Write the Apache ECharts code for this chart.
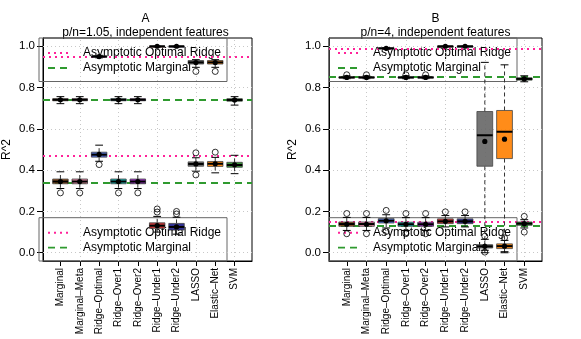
<!DOCTYPE html>
<html>
<head>
<meta charset="utf-8">
<script src="https://cdn.jsdelivr.net/npm/echarts@6/dist/echarts.min.js"></script>
<style>
  html, body { margin: 0; padding: 0; background: #fff; }
  #chart { width: 581px; height: 339px; }
</style>
</head>
<body>
<div id="chart"></div>
<script>
// categories and tick labels
var categories = ['Marginal', 'Marginal–Meta', 'Ridge–Optimal', 'Ridge–Over1', 'Ridge–Over2',
                  'Ridge–Under1', 'Ridge–Under2', 'LASSO', 'Elastic–Net', 'SVM'];
var yTicks = [0, 0.2, 0.4, 0.6, 0.8, 1.0];
var xGrid = [2, 4, 6, 8, 10];

// box stats: [lower whisker, Q1, median, Q3, upper whisker]
// panel A, upper (training) boxes
var aTrain = [
  [0.722, 0.736, 0.741, 0.746, 0.756], [0.722, 0.736, 0.741, 0.746, 0.756],
  [0.944, 0.947, 0.950, 0.953, 0.956], [0.722, 0.736, 0.741, 0.746, 0.756],
  [0.722, 0.736, 0.741, 0.746, 0.756], [0.996, 0.998, 1.000, 1.000, 1.000],
  [0.996, 0.998, 1.000, 1.000, 1.000], [0.898, 0.914, 0.922, 0.931, 0.935],
  [0.898, 0.914, 0.922, 0.931, 0.935], [0.715, 0.734, 0.740, 0.746, 0.756]
];
var aTrainMean = [0.741, 0.741, 0.950, 0.741, 0.741, 1.0, 1.0, 0.921, 0.921, 0.740];
var aTrainOut = [[], [], [], [], [], [], [], [0.878], [0.878], []];
// panel A, lower (test) boxes
var aTest = [
  [0.311, 0.334, 0.345, 0.357, 0.392], [0.311, 0.334, 0.345, 0.357, 0.392],
  [0.443, 0.463, 0.475, 0.487, 0.521], [0.311, 0.334, 0.345, 0.357, 0.392],
  [0.311, 0.334, 0.345, 0.357, 0.392], [0.100, 0.118, 0.131, 0.145, 0.176],
  [0.090, 0.110, 0.125, 0.142, 0.172], [0.395, 0.419, 0.430, 0.440, 0.460],
  [0.387, 0.418, 0.431, 0.442, 0.462], [0.383, 0.414, 0.425, 0.438, 0.472]
];
var aTestMean = [0.345, 0.345, 0.476, 0.345, 0.345, 0.131, 0.125, 0.430, 0.431, 0.426];
var aTestOut = [[0.29], [0.29], [0.427], [0.29], [0.29], [0.197, 0.212], [0.188, 0.2], [0.484, 0.377], [0.487], []];

// panel B, upper (training) boxes
var bTrain = [
  [0.843, 0.846, 0.849, 0.852, 0.856], [0.843, 0.846, 0.849, 0.852, 0.856],
  [0.986, 0.988, 0.990, 0.992, 0.994], [0.843, 0.846, 0.849, 0.852, 0.856],
  [0.843, 0.846, 0.849, 0.852, 0.856], [0.997, 0.999, 1.000, 1.000, 1.000],
  [0.997, 0.999, 1.000, 1.000, 1.000], [0.000, 0.419, 0.569, 0.684, 0.922],
  [0.000, 0.456, 0.586, 0.689, 0.910], [0.828, 0.836, 0.842, 0.847, 0.857]
];
var bTrainMean = [0.849, 0.849, 0.990, 0.849, 0.849, 1.0, 1.0, 0.539, 0.550, 0.842];
var bTrainOut = [[0.862], [0.862], [], [0.862], [0.862], [], [], [], [], []];
// panel B, lower (test) boxes
var bTest = [
  [0.108, 0.128, 0.139, 0.149, 0.171], [0.108, 0.128, 0.139, 0.149, 0.171],
  [0.120, 0.144, 0.155, 0.165, 0.184], [0.108, 0.128, 0.138, 0.148, 0.170],
  [0.108, 0.128, 0.138, 0.148, 0.170], [0.125, 0.141, 0.152, 0.164, 0.180],
  [0.125, 0.141, 0.152, 0.164, 0.180], [0.012, 0.023, 0.031, 0.039, 0.065],
  [0.005, 0.020, 0.032, 0.043, 0.060], [0.120, 0.133, 0.141, 0.149, 0.160]
];
var bTestMean = [0.138, 0.138, 0.155, 0.138, 0.138, 0.152, 0.152, 0.031, 0.032, 0.141];
var bTestOut = [[0.19, 0.092], [0.19, 0.092], [0.205, 0.103], [0.19, 0.092], [0.19, 0.092],
                [0.198], [0.198], [0.08, 0.003], [0.072], [0.176, 0.1]];

// asymptotic reference values
var aRidgeRef = [0.951, 0.473];
var aMargRef = [0.741, 0.345];
var bRidgeRef = [0.990, 0.153];
var bMargRef = [0.849, 0.134];

var titles = ['A', 'B'];
var subtitles = ['p/n=1.05, independent features', 'p/n=4, independent features'];
var legendNames = ['Asymptotic Optimal Ridge', 'Asymptotic Marginal'];

var boxColors = ['#8B4513', '#E07A9A', '#3A5FCD', '#00A5A5', '#9A1EC8',
                 '#C02020', '#1C1C8C', '#666666', '#FF8000', '#228B22'];
var PINK = '#FF2299', GREEN = '#2F9A2F';
var FONT = 'Liberation Sans, Arial, sans-serif';
var BOX_W = 0.8;

var plotLeft = [39, 329], plotTop = 38, plotW = 213, plotH = 223;

var chart = echarts.init(document.getElementById('chart'));

function boxData(stats, means) {
  return categories.map(function (c, k) {
    return [k + 1].concat(stats[k]).concat([means[k]]);
  });
}

function outData(outs) {
  var d = [];
  outs.forEach(function (list, k) {
    list.forEach(function (v) { d.push([k + 1, v]); });
  });
  return d;
}

function renderBox(params, api) {
  var x = api.value(0);
  var lo = api.coord([x, api.value(1)]);
  var q1 = api.coord([x, api.value(2)]);
  var md = api.coord([x, api.value(3)]);
  var q3 = api.coord([x, api.value(4)]);
  var hi = api.coord([x, api.value(5)]);
  var mn = api.coord([x, api.value(6)]);
  var half = api.size([BOX_W, 0])[0] / 2;
  var cap = half * 0.5;
  var cx = lo[0];
  var col = boxColors[params.dataIndex];
  var wStyle = { stroke: '#333', lineWidth: 1, lineDash: [4, 3] };
  var cStyle = { stroke: '#000', lineWidth: 1 };
  return {
    type: 'group',
    children: [
      { type: 'line', shape: { x1: cx, y1: q3[1], x2: cx, y2: hi[1] }, style: wStyle },
      { type: 'line', shape: { x1: cx, y1: q1[1], x2: cx, y2: lo[1] }, style: wStyle },
      { type: 'line', shape: { x1: cx - cap, y1: hi[1], x2: cx + cap, y2: hi[1] }, style: cStyle },
      { type: 'line', shape: { x1: cx - cap, y1: lo[1], x2: cx + cap, y2: lo[1] }, style: cStyle },
      { type: 'rect', shape: { x: cx - half, y: q3[1], width: half * 2, height: Math.max(q1[1] - q3[1], 1) },
        style: { fill: echarts.color.modifyAlpha(col, 0.9), stroke: '#444', lineWidth: 0.8 } },
      { type: 'line', shape: { x1: cx - half, y1: md[1], x2: cx + half, y2: md[1] },
        style: { stroke: '#000', lineWidth: 2 } },
      { type: 'circle', shape: { cx: cx, cy: mn[1], r: 2.6 }, style: { fill: '#000' } }
    ]
  };
}

function legendBox(x0, y0, h) {
  var w = 188;
  return [
    { type: 'rect', z: 3, shape: { x: x0, y: y0, width: w, height: h },
      style: { fill: 'none', stroke: '#666', lineWidth: 1 } },
    { type: 'line', z: 3, shape: { x1: x0 + 9, y1: y0 + 15, x2: x0 + 30, y2: y0 + 15 },
      style: { stroke: PINK, lineWidth: 2, lineDash: [2, 4] } },
    { type: 'line', z: 3, shape: { x1: x0 + 9, y1: y0 + 30, x2: x0 + 29, y2: y0 + 30 },
      style: { stroke: GREEN, lineWidth: 1.8, lineDash: [7, 5] } },
    { type: 'text', z: 3, x: x0 + 44, y: y0 + 15,
      style: { text: legendNames[0], font: '12px ' + FONT, fill: '#000', verticalAlign: 'middle' } },
    { type: 'text', z: 3, x: x0 + 44, y: y0 + 30,
      style: { text: legendNames[1], font: '12px ' + FONT, fill: '#000', verticalAlign: 'middle' } }
  ];
}

var grids = [], xAxes = [], yAxes = [], series = [], graphics = [];
var panels = [
  { train: aTrain, trainMean: aTrainMean, trainOut: aTrainOut, test: aTest, testMean: aTestMean, testOut: aTestOut, ridge: aRidgeRef, marg: aMargRef },
  { train: bTrain, trainMean: bTrainMean, trainOut: bTrainOut, test: bTest, testMean: bTestMean, testOut: bTestOut, ridge: bRidgeRef, marg: bMargRef }
];

panels.forEach(function (p, i) {
  grids.push({ left: plotLeft[i], top: plotTop, width: plotW, height: plotH,
               show: true, borderColor: '#000', borderWidth: 1, backgroundColor: 'transparent' });
  xAxes.push({
    gridIndex: i, type: 'value', min: 0.1, max: 10.9,
    axisLine: { show: true, onZero: false, lineStyle: { color: '#000' } },
    axisTick: { show: true, length: 5, customValues: categories.map(function (c, k) { return k + 1; }), lineStyle: { color: '#000' } },
    axisLabel: { show: true, rotate: 90, margin: 7, fontSize: 10, fontFamily: FONT, color: '#000',
                 customValues: categories.map(function (c, k) { return k + 1; }),
                 formatter: function (v) { return categories[Math.round(v) - 1]; } },
    splitLine: { show: false }
  });
  yAxes.push({
    gridIndex: i, type: 'value', min: -0.04, max: 1.04,
    name: 'R^2', nameLocation: 'middle', nameGap: 30, nameRotate: 90,
    nameTextStyle: { fontSize: 12, fontFamily: FONT, color: '#000' },
    axisLine: { show: true, onZero: false, lineStyle: { color: '#000' } },
    axisTick: { show: true, length: 6, customValues: yTicks, lineStyle: { color: '#000' } },
    axisLabel: { show: true, margin: 8, fontSize: 11.5, fontFamily: FONT, color: '#000',
                 customValues: yTicks, formatter: function (v) { return v.toFixed(1); } },
    splitLine: { show: false }
  });

  var gridStyle = { color: '#c8c8c8', type: [1, 3], width: 1 };
  var marks = [];
  xGrid.forEach(function (v) { marks.push({ xAxis: v, lineStyle: gridStyle }); });
  yTicks.forEach(function (v) { marks.push({ yAxis: v, lineStyle: gridStyle }); });
  p.ridge.forEach(function (v) { marks.push({ yAxis: v, lineStyle: { color: PINK, type: [2, 4], width: 2 } }); });
  p.marg.forEach(function (v) { marks.push({ yAxis: v, lineStyle: { color: GREEN, type: [7, 5], width: 1.8 } }); });

  series.push({
    type: 'line', xAxisIndex: i, yAxisIndex: i, data: [], z: 1, silent: true,
    markLine: { silent: true, symbol: ['none', 'none'], label: { show: false }, animation: false, data: marks }
  });
  series.push({ type: 'custom', xAxisIndex: i, yAxisIndex: i, z: 5, renderItem: renderBox,
                encode: { x: 0, y: [1, 2, 3, 4, 5] }, data: boxData(p.train, p.trainMean) });
  series.push({ type: 'custom', xAxisIndex: i, yAxisIndex: i, z: 5, renderItem: renderBox,
                encode: { x: 0, y: [1, 2, 3, 4, 5] }, data: boxData(p.test, p.testMean) });
  series.push({ type: 'scatter', xAxisIndex: i, yAxisIndex: i, z: 6, symbol: 'circle', symbolSize: 6,
                itemStyle: { color: 'rgba(0,0,0,0)', borderColor: '#000', borderWidth: 1 },
                data: outData(p.trainOut).concat(outData(p.testOut)) });

  var cx = plotLeft[i] + plotW / 2;
  graphics.push({ type: 'text', x: cx, y: 19, z: 3,
                  style: { text: titles[i], font: '12px ' + FONT, fill: '#000', align: 'center', verticalAlign: 'middle' } });
  graphics.push({ type: 'text', x: cx, y: 33, z: 3,
                  style: { text: subtitles[i], font: '12px ' + FONT, fill: '#000', align: 'center', verticalAlign: 'middle' } });
  graphics = graphics.concat(legendBox(plotLeft[i], plotTop, 43.5));
  graphics = graphics.concat(legendBox(plotLeft[i], 217.7, 43.3));
});

chart.setOption({
  animation: false,
  backgroundColor: '#fff',
  grid: grids,
  xAxis: xAxes,
  yAxis: yAxes,
  series: series,
  graphic: { elements: graphics }
});
</script>
</body>
</html>
